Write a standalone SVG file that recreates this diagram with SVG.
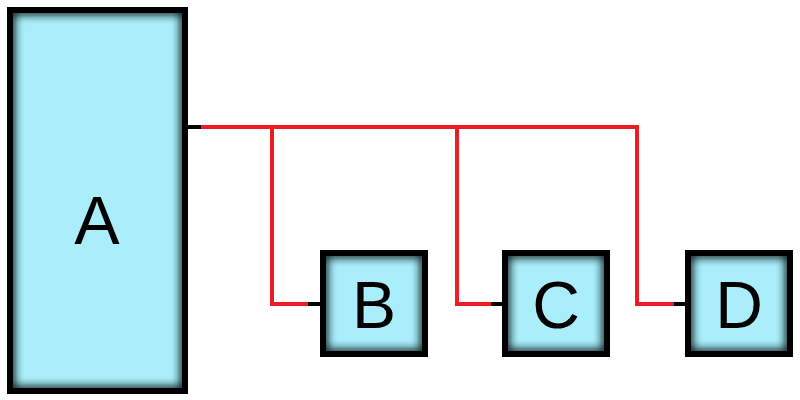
<svg xmlns="http://www.w3.org/2000/svg" width="800" height="400" viewBox="0 0 800 400">
<style>
.fill{fill:#aaeefc}
.glow{fill:none;stroke:#0a1a1e;stroke-width:10;filter:url(#blur)}
.border{fill:none;stroke:#000;stroke-width:6}
.lbl{font-family:"Liberation Sans",Arial,sans-serif;fill:#000;text-anchor:middle}
.red{fill:none;stroke:#ee1c25;stroke-width:4}
.stub{fill:none;stroke:#000;stroke-width:4}
</style>
<defs>
<filter id="blur" x="-20%" y="-20%" width="140%" height="140%"><feGaussianBlur stdDeviation="4"/></filter>
<clipPath id="cA"><rect x="10" y="10" width="175" height="381"/></clipPath>
<clipPath id="cB"><rect x="323" y="253" width="102" height="101"/></clipPath>
<clipPath id="cC"><rect x="505" y="253" width="102" height="101"/></clipPath>
<clipPath id="cD"><rect x="688" y="253" width="102" height="101"/></clipPath>
</defs>
<rect width="800" height="400" fill="#fff"/>
<g id="connectors">
<path class="red" d="M199 127H637V304H688M272 127V304H310M457 127V304H493"/>
<path class="stub" d="M187 127H201M308 304H323M491 304H505M674 304H688"/>
</g>
<g id="A">
<rect class="fill" x="10" y="10" width="175" height="381"/>
<rect class="glow" x="10" y="10" width="175" height="381" clip-path="url(#cA)"/>
<rect class="border" x="10" y="10" width="175" height="381"/>
<text class="lbl" x="97" y="244" font-size="68">A</text>
</g>
<g id="B">
<rect class="fill" x="323" y="253" width="102" height="101"/>
<rect class="glow" x="323" y="253" width="102" height="101" clip-path="url(#cB)"/>
<rect class="border" x="323" y="253" width="102" height="101"/>
<text class="lbl" x="374" y="328" font-size="66">B</text>
</g>
<g id="C">
<rect class="fill" x="505" y="253" width="102" height="101"/>
<rect class="glow" x="505" y="253" width="102" height="101" clip-path="url(#cC)"/>
<rect class="border" x="505" y="253" width="102" height="101"/>
<text class="lbl" x="556" y="328" font-size="66">C</text>
</g>
<g id="D">
<rect class="fill" x="688" y="253" width="102" height="101"/>
<rect class="glow" x="688" y="253" width="102" height="101" clip-path="url(#cD)"/>
<rect class="border" x="688" y="253" width="102" height="101"/>
<text class="lbl" x="739" y="328" font-size="66">D</text>
</g>
</svg>
